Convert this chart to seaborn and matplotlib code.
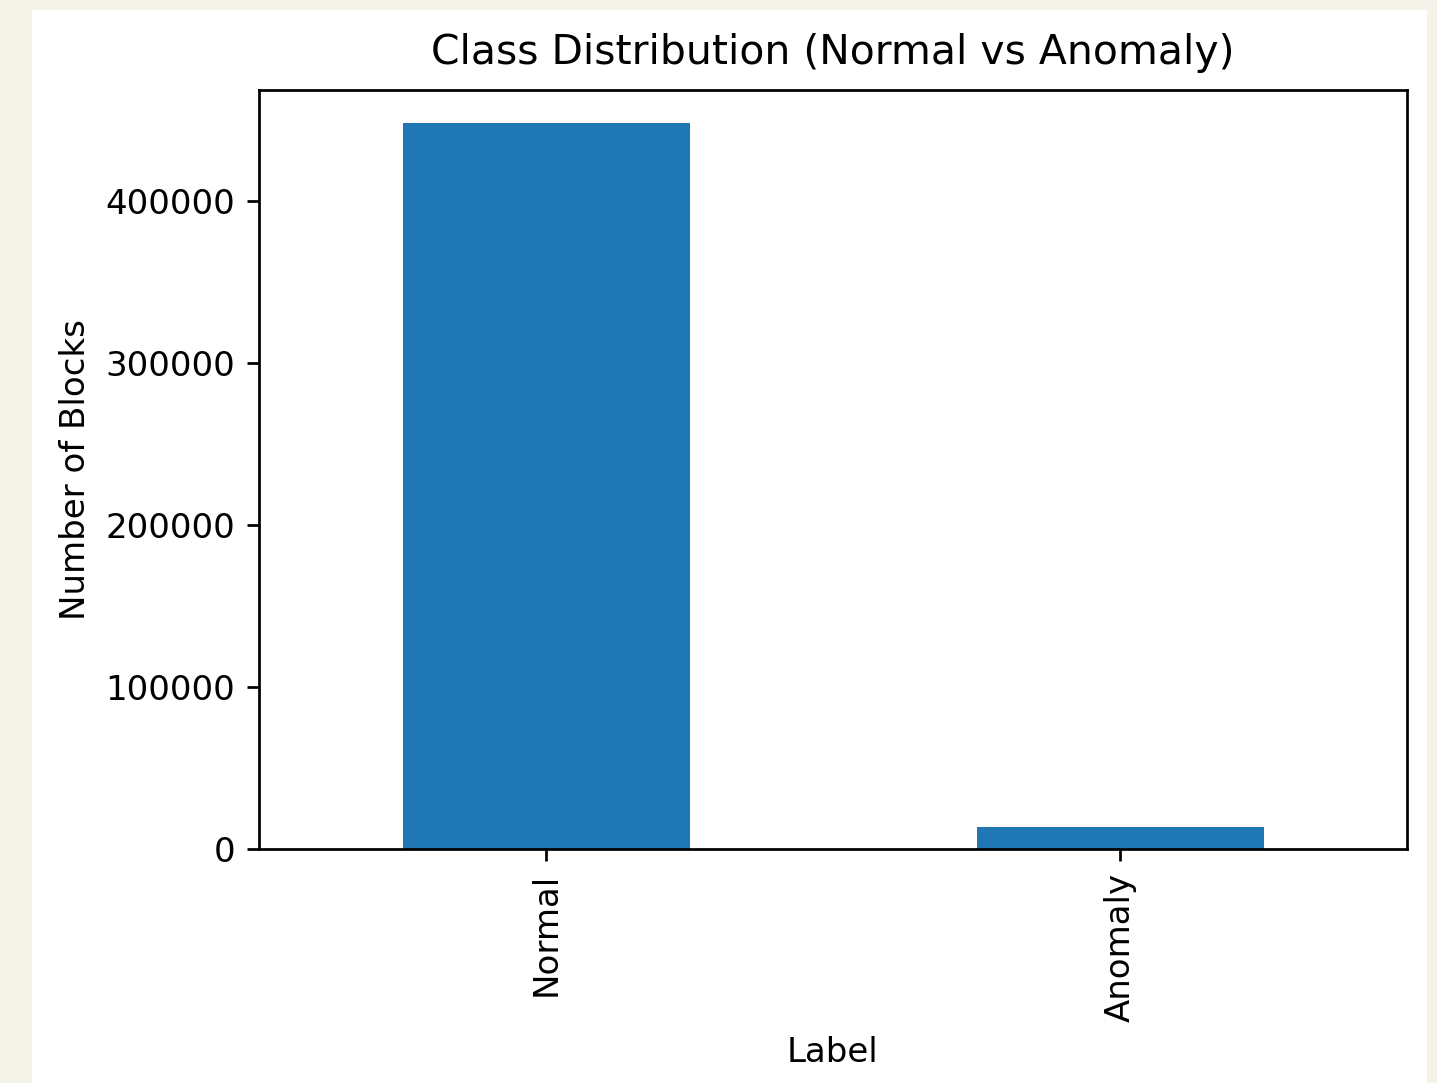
import seaborn as sns
import matplotlib.pyplot as plt
import pandas as pd
from matplotlib.patches import Rectangle

labels = ["Normal", "Anomaly"]
counts = [448300, 13600]

s = 2.45  # screenshot scale

if __name__ == '__main__':
    df = pd.DataFrame({"Label": labels, "count": counts})

    plt.rcParams["font.family"] = ["DejaVu Sans"]
    plt.rcParams["font.size"] = 10 * s
    plt.rcParams["axes.linewidth"] = 0.8 * s
    for ax_name in ("xtick", "ytick"):
        plt.rcParams[ax_name + ".major.size"] = 3.5 * s
        plt.rcParams[ax_name + ".major.width"] = 0.8 * s
        plt.rcParams[ax_name + ".major.pad"] = 3.5 * s
    plt.rcParams["axes.labelpad"] = 4 * s
    plt.rcParams["axes.titlepad"] = 7.5 * s

    fig = plt.figure(figsize=(14.37, 10.83), dpi=100, facecolor="#f5f2ea")
    # white notebook output area
    fig.add_artist(Rectangle((32 / 1437, 0), (1427 - 32) / 1437, 1073 / 1083,
                             transform=fig.transFigure, facecolor="white",
                             edgecolor="none", zorder=-10))

    ax = fig.add_axes([259 / 1437, (1083 - 849) / 1083, 1148 / 1437, 759 / 1083])
    sns.barplot(data=df, x="Label", y="count", color="#1f77b4", saturation=1,
                width=0.5, ax=ax)
    ax.set_ylim(0, 468800)
    ax.set_title("Class Distribution (Normal vs Anomaly)", fontsize=12 * s)
    ax.set_xlabel("Label")
    ax.set_ylabel("Number of Blocks")
    ax.tick_params(axis="x", labelrotation=90)

    fig.savefig("out.png", dpi=100, facecolor=fig.get_facecolor())
